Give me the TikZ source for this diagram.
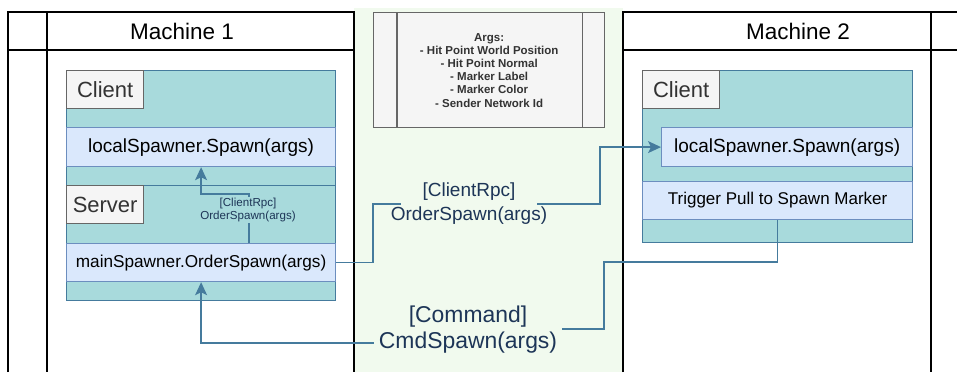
\documentclass[tikz,border=0pt]{standalone}
\usepackage{fontspec}
\setmainfont{Liberation Sans}
\usetikzlibrary{positioning,arrows.meta,calc}
\definecolor{NavyText}{HTML}{1D3557}
\definecolor{LinkBlue}{HTML}{457B9D}
\definecolor{TealFill}{HTML}{A8DADC}
\definecolor{MintBack}{HTML}{F1FAEE}
\definecolor{CallFill}{HTML}{DAE8FC}
\definecolor{CallLine}{HTML}{6C8EBF}
\definecolor{TagFill}{HTML}{F5F5F5}
\definecolor{TagLine}{HTML}{666666}
\definecolor{TagText}{HTML}{333333}
\tikzset{
    lane/.style={draw=black,line width=1.4pt},
    container/.style={draw=LinkBlue,fill=TealFill,line width=1.2pt,inner sep=0pt,anchor=north west},
    callbox/.style={draw=CallLine,fill=CallFill,line width=1.2pt,inner sep=0pt,anchor=north west,
        text=black,font=\fontsize{19}{22}\selectfont},
    tagbox/.style={draw=TagLine,fill=TagFill,line width=1.3pt,inner sep=0pt,anchor=north west,
        minimum width=77pt,minimum height=38pt,text=TagText,font=\fontsize{22}{26}\selectfont},
    link/.style={LinkBlue,line width=1.4pt,-{Stealth[length=13pt,width=12pt,inset=3pt]}},
    rpctag/.style={text=NavyText,align=center,inner sep=1pt},
}

\begin{document}
\begin{tikzpicture}[x=1pt,y=-1pt]
    \useasboundingbox (0,0) rectangle (957,372);
    \fill[white] (0,0) rectangle (957,372);
    \fill[MintBack] (354,8) rectangle (623,372);

    % swimlanes
    \draw[lane] (8,372) -- (8,12) -- (354,12) -- (354,372);
    \draw[lane] (8,50) -- (354,50);
    \draw[lane] (47,12) -- (47,372);
    \draw[lane] (623,372) -- (623,12) -- (957,12);
    \draw[lane] (623,50) -- (957,50);
    \draw[lane] (931,12) -- (931,372);
    \node[font=\fontsize{22.5}{26}\selectfont] (lane1) at (182,31) {Machine 1};
    \node[font=\fontsize{22.5}{26}\selectfont] (lane2) at (798,31) {Machine 2};

    % args list
    \node[draw=TagLine,fill=TagFill,line width=1.3pt,anchor=north west,minimum width=231pt,
        minimum height=115pt,inner sep=0pt,align=center,text=TagText,
        font=\fontsize{11.5}{13.2}\selectfont\bfseries] (args) at (373,12)
        {Args:\\- Hit Point World Position\\- Hit Point Normal\\- Marker Label\\- Marker Color\\- Sender Network Id};
    \draw[TagLine,line width=1.3pt] ($(args.north west)+(24,0)$) -- ($(args.south west)+(24,0)$);
    \draw[TagLine,line width=1.3pt] ($(args.north east)+(-23,0)$) -- ($(args.south east)+(-23,0)$);

    % machine 1
    \node[container,minimum width=269pt,minimum height=115pt] (client1) at (66,70) {};
    \node[container,minimum width=269pt,minimum height=115pt] (server1) at (66,185) {};
    \node[tagbox] (clienttag1) at (66,70) {Client};
    \node[tagbox] (servertag1) at (66,185) {Server};
    \node[callbox,minimum width=269pt,minimum height=39pt] (local1) at (66,127) {localSpawner.Spawn(args)};
    \node[callbox,minimum width=269pt,minimum height=38pt,font=\fontsize{17.2}{20}\selectfont] (main1) at (66,243) {mainSpawner.OrderSpawn(args)};

    % machine 2
    \node[container,minimum width=270pt,minimum height=172pt] (client2) at (642,70) {};
    \node[tagbox] (clienttag2) at (642,70) {Client};
    \node[callbox,minimum width=251pt,minimum height=39pt] (local2) at (661,127) {localSpawner.Spawn(args)};
    \node[callbox,minimum width=270pt,minimum height=38pt,font=\fontsize{17}{20}\selectfont] (trigger2) at (642,181) {Trigger Pull to Spawn Marker};

    % connectors
    \coordinate (rpcIn) at (249,194);
    \coordinate (rpcA) at (373,204);
    \coordinate (rpcB) at (600,204);
    \coordinate (cmdA) at (604,262);
    \coordinate (cmdB) at (604,329);
    \coordinate (cmdC) at (468,329);
    \coordinate (cmdD) at (468,343);
    \draw[link] (main1.north -| rpcIn) |- (local1.south |- rpcIn) -- (local1.south);
    \node[rpctag,fill=TealFill,font=\fontsize{11.6}{13}\selectfont] (rpclabel1) at (248,210) {[ClientRpc]\\OrderSpawn(args)};
    \draw[link] (main1.east) -| (rpcA) -- (rpcB) |- (local2.west);
    \node[rpctag,fill=MintBack,inner xsep=-10pt,font=\fontsize{19}{24}\selectfont] (rpclabel2) at (469,204) {[ClientRpc]\\OrderSpawn(args)};
    \draw[link] (trigger2.south) |- (cmdA) -- (cmdB) -- (cmdC) -- (cmdD) -| (main1.south);
    \node[rpctag,fill=MintBack,inner xsep=5pt,font=\fontsize{22.9}{26}\selectfont] (cmdlabel) at (468,330) {[Command]\\CmdSpawn(args)};
\end{tikzpicture}
\end{document}
